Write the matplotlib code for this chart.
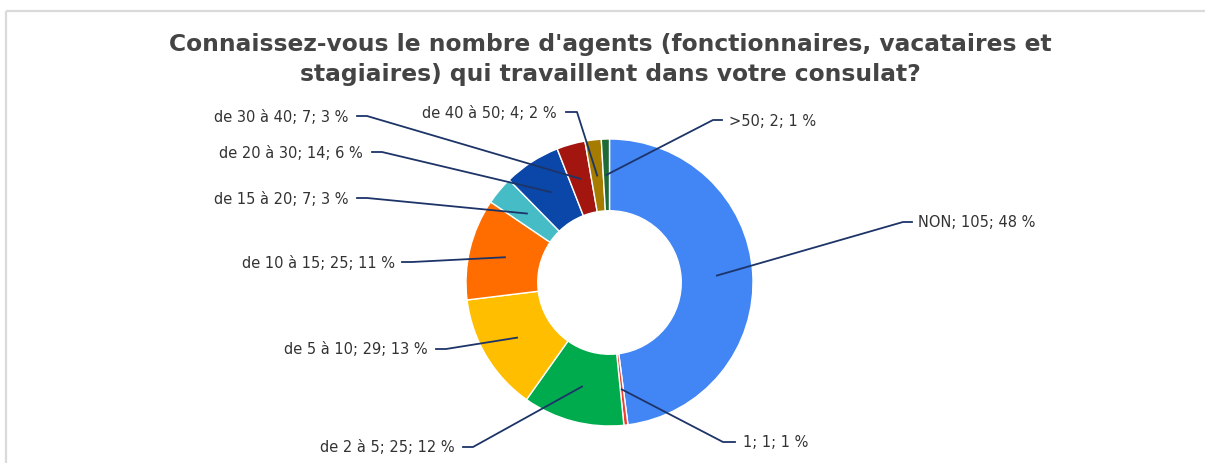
import matplotlib.pyplot as plt
import numpy as np

# données
categories = ["NON", "1", "de 2 à 5", "de 5 à 10", "de 10 à 15", "de 15 à 20",
              "de 20 à 30", "de 30 à 40", "de 40 à 50", ">50"]
counts = [105, 1, 25, 29, 25, 7, 14, 7, 4, 2]
pct_labels = [48, 1, 12, 13, 11, 3, 6, 3, 2, 1]
colors = ["#4285F4", "#EA4335", "#00AB4E", "#FFBE00", "#FF6D00", "#46BDC6",
          "#0B47A8", "#A2160F", "#A57C00", "#1E6B35"]

title_lines = ["Connaissez-vous le nombre d'agents (fonctionnaires, vacataires et",
               "stagiaires) qui travaillent dans votre consulat?"]

W, H = 1205, 464
# mise en page en pixels (origine en haut a gauche)
cx, cy, R = 609.5, 283.5, 143.5
# (x texte, y texte, alignement, x coude, x bout de ligne)
label_pos = [
    (918, 223, "left", 903, 912),
    (743, 443, "left", 723, 735),
    (455, 448, "right", 473, 463),
    (428, 350, "right", 446, 436),
    (395, 263, "right", 412, 402),
    (348, 199, "right", 367, 357),
    (363, 153, "right", 382, 372),
    (348, 117, "right", 367, 357),
    (557, 113, "right", 577, 566),
    (729, 121, "left", 713, 722),
]


def py(y):
    return H - y


fig = plt.figure(figsize=(W / 100, H / 100), dpi=100)
ax = fig.add_axes([0, 0, 1, 1])

wedges, _ = ax.pie(counts, colors=colors, center=(cx, py(cy)), radius=R,
                   startangle=90, counterclock=False,
                   wedgeprops=dict(width=R * 0.5, edgecolor="white", linewidth=1.0))
ax.set_xlim(0, W)
ax.set_ylim(0, H)
ax.set_aspect("auto")
ax.axis("off")

# cadre gris clair (haut et gauche)
ax.plot([6, W], [py(12), py(12)], color="#dadada", lw=1.6, solid_capstyle="butt")
ax.plot([6, 6], [py(12), 0], color="#dadada", lw=1.6, solid_capstyle="butt")

ax.text(610, py(45), title_lines[0], ha="center", va="center", fontsize=16.8,
        fontweight="bold", color="#444444", family="DejaVu Sans")
ax.text(610, py(75), title_lines[1], ha="center", va="center", fontsize=16.8,
        fontweight="bold", color="#444444", family="DejaVu Sans")

total = sum(counts)
cum = 0
r_mid = R * 0.75
for i, w in enumerate(wedges):
    mid = (cum + counts[i] / 2) / total * 360
    cum += counts[i]
    ang = np.deg2rad(90 - mid)
    axp = cx + r_mid * np.cos(ang)
    ayp = cy - r_mid * np.sin(ang)
    tx, ty, ha, xe, xn = label_pos[i]
    ax.plot([axp, xe, xn], [py(ayp), py(ty), py(ty)], color="#1d3468", lw=1.3,
            solid_joinstyle="round")
    txt = f"{categories[i]}; {counts[i]}; {pct_labels[i]} %"
    ax.text(tx, py(ty), txt, ha=ha, va="center", fontsize=10.5, color="#333333",
            family="DejaVu Sans")

fig.savefig("out.png", dpi=100)
